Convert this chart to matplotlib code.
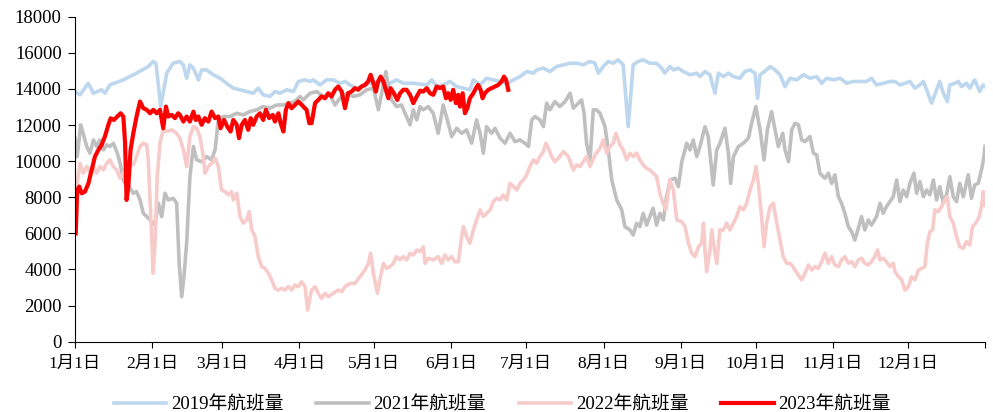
import matplotlib
matplotlib.use("Agg")
import matplotlib.pyplot as plt

plt.rcParams['font.family'] = ['Liberation Serif', 'Noto Sans CJK SC', 'DejaVu Sans']

# 横轴：一年中的第几天（1月1日 = 0）
month_starts = [0, 31, 59, 90, 120, 151, 181, 212, 243, 273, 304, 334, 365]
month_labels = ['1月1日', '2月1日', '3月1日', '4月1日', '5月1日', '6月1日',
                '7月1日', '8月1日', '9月1日', '10月1日', '11月1日', '12月1日', '']

# 2019年航班量
d2019 = [0, 2, 5.3, 7.4, 10.7, 12, 14, 19.4, 24.7, 29.4, 31.4, 32.5, 34.4, 36.8, 39.4, 42, 43.5, 44.8, 46.1,
         47.5, 49.5, 50.8, 52.8, 55.5, 58.2, 60.8, 63.5, 66.2, 68.9, 71.5, 73.5, 75.5, 78.2, 80.2, 82.2, 84.9,
         87.6, 89.6, 92.3, 94.3, 95.6, 98.3, 100.9, 103.6, 106.3, 108.3, 110.3, 113, 115.6, 118.3, 122.3, 125,
         129, 131.7, 135.7, 141.1, 143.1, 145.1, 147.7, 150.4, 153.1, 155.8, 158.4, 159.8, 162.5, 165.1, 167.8,
         170.5, 173.2, 175.9, 178.5, 181.2, 183.9, 185.2, 187.9, 190.5, 193.2, 195.9, 198.6, 201.2, 203.9, 206.6,
         208.6, 209.9, 211.9, 213.9, 215.9, 217.9, 219.9, 221.9, 223.9, 225.9, 227.9, 230.6, 233.3, 235.3, 236.6,
         238.6, 240, 242, 244, 246.7, 249.4, 250.7, 252.7, 254.7, 256.7, 258.1, 260.1, 262.1, 264.1, 266.7, 268.7,
         270.8, 272.8, 273.8, 274.8, 277.4, 278.8, 280.8, 282.8, 284.8, 286.8, 289.5, 292.2, 294.8, 297.5, 299.5,
         301.5, 304.2, 306.9, 309.5, 312.2, 314.9, 317.5, 319.5, 321.5, 324.2, 326.9, 328.9, 330.9, 332.9, 334.9,
         336.9, 338.9, 340.3, 341.6, 343.6, 345.6, 346.9, 348.3, 349.9, 350.9, 352.9, 354.3, 355.6, 357.6, 358.9,
         360.9, 362.9, 364.3, 365]
v2019 = [13850, 13670, 14310, 13760, 13950, 13760, 14220, 14500, 14870, 15240, 15520, 15420, 13020, 14870, 15420,
         15520, 15330, 14590, 15330,
         15150, 14500, 15050, 15050, 14780, 14590, 14310, 14040, 13950, 13850, 13760, 14040, 13670, 13580, 13850,
         13760, 13950, 13850, 14410, 14500, 14410, 14500, 14220, 14500, 14500, 14310, 14410, 14220, 14040, 14130,
         14310, 14410, 14220, 14500, 14310, 14310, 14220, 14500, 14130, 14220, 14410, 14130, 14040, 13950, 14500,
         14220, 14590, 14500, 14410, 14310, 14500, 14680, 14960, 14870, 15050, 15150, 14960, 15240, 15330, 15420,
         15420, 15330, 15520, 15420, 14870, 15240, 15520, 15420, 15610, 15330, 11910, 15330, 15520, 15610, 15420,
         15420, 15150, 14870, 15240, 15050, 15150, 14960, 14780, 14870, 14680, 14960, 14780, 13760, 14870, 14680,
         14870, 14680, 14590, 14960, 15050, 14870, 13480, 14780, 15050, 15240, 15050, 14780, 14130, 14590, 14500,
         14780, 14590, 14680, 14310, 14590, 14500, 14590, 14310, 14410, 14410, 14410, 14590, 14220, 14310, 14410,
         14410, 14220, 14310, 14410, 14040, 14220, 14410, 13950, 13210, 13950, 14410, 13760, 13300, 14220, 14310,
         14410, 14130, 14310, 14040, 14500, 13850, 14220, 14130]

# 2021年航班量
d2021 = [0, 0.9, 2.3, 3.3, 4.7, 6, 7.4, 8.7, 10, 11.4, 12.7, 14, 15.4, 17, 18.1, 19.4, 20.7, 22.1, 23.4, 24.7,
         26.1, 27.4, 28.8, 30.8, 32.1, 33.4, 34.8, 36.1, 37.4, 39.4, 40.8, 41.8, 42.8, 43.7, 44.8, 46.1, 47.5,
         48.8, 50.8, 52.8, 54.8, 56.2, 57.5, 59.5, 62.2, 64.9, 67.5, 70.2, 72.9, 75.5, 78.2, 80.9, 83.6, 86.2,
         88.2, 90.3, 91.6, 94.3, 97, 99.6, 102.3, 104.3, 106.3, 109, 111.6, 114.3, 117, 119.7, 121.7, 123, 124.7,
         125.7, 127, 129, 131, 132.4, 134.4, 135.7, 137.1, 138.4, 139.7, 141.7, 143.7, 145.7, 147.7, 149.7, 151.1,
         153.1, 155.1, 157.1, 159.1, 161.1, 162.5, 163.8, 165.1, 167.1, 168.5, 170.5, 172.5, 174.5, 176.5, 178.5,
         180.5, 181.9, 183.2, 184.5, 186.5, 187.9, 189.2, 190.5, 192.5, 194.5, 196.6, 198.6, 199.9, 201.9, 203.2,
         204.2, 205.2, 206.6, 207.9, 209.2, 210.6, 212.6, 213.9, 215.3, 217.3, 219.3, 220.6, 222.6, 223.9, 225.3,
         226.6, 227.9, 229.3, 230.6, 231.9, 233.3, 234.6, 236, 237.3, 238.7, 240.7, 242, 243.4, 245.4, 246.7, 248,
         249.4, 250.7, 252.7, 254, 256, 257.4, 258.7, 260.7, 262.1, 263, 264.1, 266.1, 268.1, 270.1, 271.4, 273.1,
         274.8, 276.4, 277.7, 279.4, 280.8, 282.1, 283.9, 284.8, 286.2, 287.5, 288.8, 290.2, 291.5, 292.8, 294.8,
         296.2, 297.5, 298.8, 300.8, 302.2, 303.5, 304.8, 306.2, 307.5, 308.8, 310.2, 311.5, 312.8, 314.2, 315.5,
         316.8, 318.2, 319.5, 321.5, 322.9, 324.2, 325.5, 326.9, 328.2, 329.6, 330.9, 332.2, 333.6, 334.9, 336.5,
         337.6, 338.9, 340.3, 341.6, 342.9, 344.3, 345.6, 346.9, 348.3, 349.6, 350.9, 352.3, 353.6, 354.9, 356.3,
         358.3, 359.6, 360.9, 362.3, 363.6, 364.6, 365]
v2021 = [11270, 10250, 12010, 11540, 10810, 10440, 11170, 10810, 11170, 10620, 10900, 10810, 10990, 10440, 9880,
         8960, 8590, 8500, 8220, 8310, 7850, 7110, 6930, 6650, 6460, 7670, 6930, 8220, 7850, 7940, 7670, 4340, 2490,
         3600, 5450, 9140, 10810, 10070, 9970, 10250, 10070, 10620, 12280, 12470, 12470, 12650, 12560, 12750, 12840,
         13020, 12930, 13110, 13110, 13210, 13300, 13580, 13390, 13760, 13850, 13580, 13670, 13110, 13480, 13760,
         13580, 13670, 13950, 14040, 12840, 13760, 14960, 14130, 13390, 13020, 13110, 12650, 12010, 12840, 12280,
         13020, 12840, 13020, 12650, 11540, 13110, 12100, 11360, 11820, 11540, 11730, 10990, 12280, 11540, 10440,
         11910, 11540, 11820, 11270, 10990, 11540, 11080, 11170, 10990, 10810, 12280, 12470, 12280, 11910, 13210,
         12840, 13300, 13020, 13300, 13760, 12930, 13210, 13390, 12650, 10990, 10070, 12840, 12840, 12650, 11910,
         10620, 8960, 7850, 7300, 6370, 6190, 5910, 6560, 6370, 7110, 6460, 6930, 7390, 6460, 7110, 6740, 8030,
         8960, 9050, 8590, 9970, 10990, 10620, 11170, 10250, 10810, 11910, 11360, 8680, 10620, 10990, 11820, 10440,
         8770, 10250, 10810, 10990, 11270, 12100, 13020, 11730, 10070, 11730, 12740, 11730, 10810, 11540, 10620,
         9970, 11730, 12100, 12010, 11170, 11080, 11360, 10440, 10340, 9330, 9050, 9330, 8770, 9240, 8030, 7660,
         7110, 6370, 6100, 5630, 6280, 6930, 6190, 6740, 6460, 6930, 7660, 7110, 7480, 7760, 8030, 8960, 7760, 8400,
         8030, 8770, 9330, 8220, 8870, 8030, 8400, 8130, 8960, 7850, 8590, 7670, 8130, 9140, 8030, 7760, 8770, 8030,
         9240, 7940, 8680, 8770, 9510, 10250, 10810]

# 2022年航班量
d2022 = [0.5, 2, 3.3, 4.7, 6, 7.4, 8.7, 10, 11.4, 12.7, 14, 15.4, 16.7, 18.1, 19.4, 20.7, 22.1, 23.4, 24.7, 26.1,
         27.4, 28.8, 29.4, 30.3, 31.4, 32.1, 33, 34.1, 35.4, 36.8, 38.8, 40.8, 42.1, 43.5, 44.8, 46.1, 47.5, 48.8,
         50.1, 51.5, 52.1, 53.5, 54.8, 56.2, 57.5, 58.8, 60.2, 61.5, 62.8, 63.5, 64.9, 66.2, 67.5, 68.9, 69.9,
         70.9, 72.2, 73.5, 74.9, 76.2, 77.6, 78.9, 80.2, 81.6, 82.9, 84.2, 85.6, 86.9, 88.2, 89.6, 90.9, 92.3,
         93.3, 94.9, 96.3, 97.6, 98.9, 100.3, 101.6, 103.6, 105.6, 107, 108.3, 110.3, 112.3, 114.3, 116.3, 117.7,
         118.6, 119.7, 121.3, 122.3, 123.7, 125, 126.4, 127.7, 129, 130.4, 131.7, 133, 134.4, 135.7, 137.1, 138.4,
         139.7, 140.4, 141.7, 143.7, 145.7, 147.1, 148.4, 149.7, 151.1, 152.4, 153.8, 155.1, 155.8, 157.1, 158.4,
         159.8, 161.1, 162.5, 163.8, 165.1, 166.5, 167.8, 169.2, 170.5, 171.8, 173.2, 174.5, 175.9, 177.2, 178.5,
         179.9, 181.2, 182.5, 183.9, 185.2, 186.5, 187.9, 188.9, 189.9, 191.2, 192.5, 193.9, 195.9, 197.9, 199.9,
         201.2, 202.6, 203.9, 205.2, 206.6, 208.6, 210.6, 211.9, 213.3, 214.6, 215.9, 217, 218.6, 219.9, 221.3,
         222.6, 223.9, 225.3, 226.6, 227.9, 229.3, 230.6, 231.9, 233.3, 234.6, 235.9, 237, 237.9, 238.6, 240,
         241.4, 243.4, 244.7, 246.1, 247.4, 248.7, 250.1, 251.4, 252.1, 252.7, 253.4, 254.7, 255.4, 256.7, 257.4,
         258.7, 260.1, 261.4, 262.7, 264.1, 265.4, 266.7, 268.1, 269.4, 270.8, 272.1, 273.2, 274.1, 275.4, 276.4,
         277.4, 278.8, 280.1, 281.5, 282.8, 284.1, 285.5, 286.8, 287.5, 288.8, 290.2, 291.5, 292.8, 294.2, 295.5,
         296.8, 298.2, 299.5, 300.8, 302.2, 303.5, 304.8, 306.2, 307.5, 308.8, 310.2, 311.5, 312.8, 314.2, 315.5,
         316.8, 318.2, 319.5, 320.8, 321.9, 322.9, 324.2, 325.5, 326.9, 328.2, 328.9, 330.3, 331.6, 332.9, 334.3,
         335.6, 336.9, 338.3, 339.6, 340.9, 341.9, 342.9, 344, 344.9, 346.3, 347.6, 348.9, 349.9, 350.9, 352.3,
         353.6, 354.9, 356.3, 357.6, 358.9, 360, 361.3, 362.7, 363.6, 364.3, 365]
v2022 = [8400, 9880, 9330, 9700, 9330, 9700, 9330, 9700, 9510, 9880, 10070, 9700, 9510, 9050, 9330, 9700, 9880,
         9790, 10250, 10810, 10990, 10900, 10070, 7300, 3790, 5450, 9140, 10990, 11730, 11640, 11730, 11540, 11270,
         10620, 9700, 11360, 11910, 11820, 11360, 10250, 9330, 9700, 9880, 10160, 9700, 8400, 8310, 8130, 8310, 7850,
         8220, 6930, 6560, 6740, 7200, 6190, 5820, 4710, 4160, 4060, 3790, 3420, 2960, 2860, 2960, 2860, 3050, 2860,
         3140, 3050, 3320, 3050, 1750, 2860, 3050, 2680, 2400, 2680, 2490, 2680, 2860, 2770, 3050, 3230, 3230, 3600,
         3970, 4340, 4900, 3790, 2680, 3420, 4340, 4060, 4160, 4340, 4710, 4530, 4710, 4530, 4900, 4800, 5080, 4990,
         5260, 4340, 4620, 4530, 4710, 4340, 4800, 4530, 4710, 4430, 4430, 5820, 6370, 5820, 5450, 6190, 6740, 7300,
         6930, 7110, 7300, 7760, 7940, 7850, 8130, 7850, 8770, 8590, 8400, 8770, 8960, 9240, 9700, 10070, 9880, 10250,
         10530, 10990, 10710, 10250, 9970, 10160, 10530, 10250, 9510, 9790, 9700, 9970, 10250, 9700, 10340, 10710,
         11170, 10440, 10810, 10990, 11540, 10900, 10620, 10070, 10440, 10250, 10440, 10070, 9790, 9600, 9510, 9330,
         9140, 8220, 7660, 7300, 8220, 8960, 8400, 6740, 6650, 6370, 5450, 4900, 4710, 5260, 5450, 6560, 5080, 3880,
         5080, 6190, 4900, 4340, 6190, 6190, 6560, 6190, 6560, 6930, 7480, 7300, 7660, 8400, 8960, 9700, 8770, 6930,
         5260, 6560, 7480, 7670, 6560, 5630, 4710, 4340, 4340, 4250, 3970, 3690, 3420, 3790, 4250, 3970, 4160, 4060,
         4430, 4900, 4340, 4710, 4250, 4160, 4530, 4710, 4340, 4430, 4160, 4530, 4620, 4340, 4250, 4430, 4710, 5080,
         4530, 4620, 4430, 4160, 4340, 3880, 3600, 3420, 2860, 3050, 3600, 3420, 3970, 4060, 4160, 5450, 6100, 6190,
         7300, 7200, 7480, 7850, 8030, 6930, 6560, 5820, 5260, 5170, 5540, 5360, 6370, 6560, 6930, 7480, 8310, 7570]

# 2023年航班量
d2023 = [0.3, 0.9, 1.7, 2.7, 4, 5.4, 6.7, 8, 9.4, 10.7, 12, 13.4, 14.3, 15.6, 17, 18.3, 19.4, 20.1, 20.7, 21.4,
         22.3, 23.4, 24.7, 26.1, 27.4, 28.8, 30.1, 31.4, 32.8, 34.1, 35.4, 36.5, 37.4, 38.8, 40.1, 41.4, 42.1, 43.5,
         44.8, 46.1, 47.5, 48.5, 49.5, 50.8, 52.1, 53.5, 54.8, 56.2, 57.5, 58.4, 59.8, 61.1, 62.4, 63.5, 64.9, 65.8,
         66.9, 68.2, 69.5, 70.5, 71.5, 72.9, 74.2, 75.5, 76.6, 77.9, 79.3, 80.2, 81.6, 82.5, 83.6, 84.6, 85.6, 86.9,
         88.2, 89.6, 90.3, 91.6, 92.9, 94, 94.9, 96.3, 97.6, 98.9, 100.3, 101.6, 102.9, 104.3, 105.6, 107, 108.3,
         109.6, 110.9, 112.3, 113.6, 114.9, 116.3, 117.6, 118.6, 119.7, 120.7, 121.6, 122.6, 123.7, 124.7, 125.7,
         126.6, 127.9, 129.3, 130.4, 131.7, 133, 134.4, 135.7, 137.1, 138.4, 139.7, 141.1, 142.4, 143.7, 145.1,
         146.4, 147.7, 148.8, 149.7, 150.7, 151.7, 152.8, 153.7, 154.4, 155.5, 156.4, 157.4, 158.4, 159.8, 160.8,
         161.7, 162.7, 163.5, 164.4, 165.8, 167.1, 168.5, 169.8, 171.1, 172.1, 172.9, 173.8]
v2023 = [6000, 8400, 8590, 8220, 8310, 8770, 9510, 10250, 10620, 10900, 11360, 12010, 12370, 12280, 12470, 12650,
         12470, 10990, 7850, 8590, 10620, 11540, 12470, 13300, 12930, 12840, 12650, 12840, 12650, 12840, 11820, 13020,
         12470, 12560, 12380, 12650, 12560, 12190, 12470, 12190, 12740, 12280, 12470, 12010, 12380, 12190, 12740,
         12380, 12470, 11820, 12280, 11910, 11640, 12280, 12010, 11270, 12010, 12280, 11730, 12380, 12010, 12470,
         12650, 12280, 12840, 12380, 12560, 12190, 12650, 12100, 11640, 12840, 13210, 12930, 13110, 13300, 13210,
         13020, 12840, 12100, 12100, 13210, 13390, 13580, 13480, 13760, 13580, 13950, 14130, 13850, 12930, 13760,
         13850, 14040, 13950, 14130, 14220, 14410, 14780, 14310, 13850, 14410, 14680, 14410, 13950, 13480, 14040,
         13760, 13390, 13760, 13950, 13950, 13670, 13210, 13580, 13900, 13850, 14040, 13760, 13670, 14130, 14040,
         14130, 13480, 13760, 13390, 13950, 13210, 13670, 13020, 13760, 12650, 12930, 13480, 13760, 14040, 14220,
         13950, 13480, 13760, 13950, 14040, 14130, 14220, 14410, 14680, 14500, 13950]

fig = plt.figure(figsize=(9.93, 4.12), dpi=100)
ax = fig.add_axes([0.0755, 0.1706, 0.9164, 0.789])

ax.plot(d2019, v2019, color='#BDD7EE', lw=2.6, label='2019年航班量')
ax.plot(d2021, v2021, color='#BFBFBF', lw=2.6, label='2021年航班量')
ax.plot(d2022, v2022, color='#F8CBCB', lw=2.6, label='2022年航班量')
ax.plot(d2023, v2023, color='#FF0000', lw=3.0, label='2023年航班量')

ax.set_xlim(0, 365)
ax.set_ylim(0, 18000)
ax.set_yticks(range(0, 18001, 2000))
ax.set_xticks(month_starts)
ax.set_xticklabels(month_labels)

for side in ['top', 'right']:
    ax.spines[side].set_visible(False)
for side in ['left', 'bottom']:
    ax.spines[side].set_linewidth(0.8)
    ax.spines[side].set_color('black')

ax.tick_params(axis='y', direction='out', length=5, width=0.8, pad=4.5, labelsize=13.5)
ax.tick_params(axis='x', direction='out', length=4, width=0.8, pad=6, labelsize=12.5)

fig.legend(loc='center', bbox_to_anchor=(0.506, 0.018), ncol=4, frameon=False, fontsize=13.5,
           handlelength=2.8, handletextpad=0.25, columnspacing=1.75)

fig.savefig('out.png', dpi=100)
